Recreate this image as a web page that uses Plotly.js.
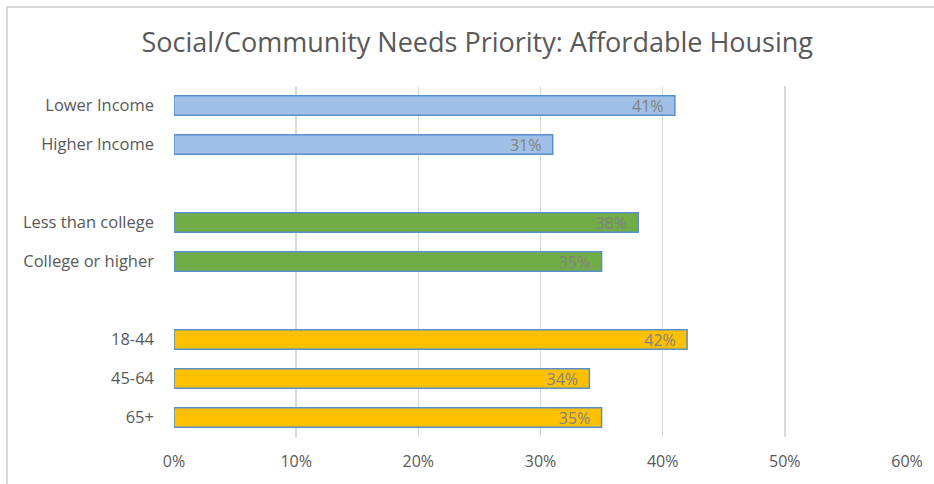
<!DOCTYPE html>
<html>
<head>
<meta charset="utf-8">
<script src="https://cdn.plot.ly/plotly-3.0.1.min.js"></script>
<style>
html,body{margin:0;padding:0;background:#fff;}
#wrap{position:relative;width:934px;height:484px;overflow:hidden;}
#frame{position:absolute;left:6px;top:6px;width:940px;height:500px;border-left:2px solid #d9d9d9;border-top:2px solid #d9d9d9;pointer-events:none;}
#chart{position:absolute;left:0;top:0;width:934px;height:484px;}
</style>
</head>
<body>
<div id="wrap"><div id="chart"></div><div id="frame"></div></div>
<script>
// Data
const incomeCats = ["Lower Income", "Higher Income"];
const incomeVals = [41, 31];
const eduCats = ["Less than college", "College or higher"];
const eduVals = [38, 35];
const ageCats = ["18-44", "45-64", "65+"];
const ageVals = [42, 34, 35];
const xTickVals = [0, 10, 20, 30, 40, 50, 60];
const xTickText = ["0%", "10%", "20%", "30%", "40%", "50%", "60%"];

const spacer1 = " ";
const spacer2 = "  ";
const catOrder = [...incomeCats, spacer1, ...eduCats, spacer2, ...ageCats];

function trace(cats, vals, fill) {
  return {
    type: "bar",
    orientation: "h",
    y: cats,
    x: vals,
    text: vals.map(v => v + "%\u00a0\u00a0"),
    textposition: "inside",
    insidetextanchor: "end",
    textangle: 0,
    constraintext: "none",
    textfont: {family: "Open Sans, Noto Sans, sans-serif", size: 16, color: "#828282"},
    marker: {color: fill, line: {color: "#5b8fcc", width: 1.5}},
    width: 0.5,
    hoverinfo: "skip",
    cliponaxis: false
  };
}

const data = [
  trace(incomeCats, incomeVals, "#a0c0e8"),
  trace(eduCats, eduVals, "#70ad47"),
  trace(ageCats, ageVals, "#ffc000")
];

const layout = {
  width: 934,
  height: 484,
  margin: {l: 174, r: 27, t: 86, b: 47},
  paper_bgcolor: "rgba(0,0,0,0)",
  plot_bgcolor: "rgba(0,0,0,0)",
  showlegend: false,
  barmode: "overlay",
  font: {family: "Open Sans, Noto Sans, sans-serif", color: "#595959"},
  title: {
    text: "Social/Community Needs Priority: Affordable Housing",
    x: 0.511, xanchor: "center",
    y: 0.912, yanchor: "middle",
    font: {family: "Open Sans, Noto Sans, sans-serif", size: 27, color: "#595959"}
  },
  xaxis: {
    range: [0, 60],
    tickvals: xTickVals,
    ticktext: xTickText,
    showgrid: true,
    gridcolor: "#d9d9d9",
    gridwidth: 1.5,
    zeroline: false,
    showline: false,
    ticks: "",
    ticklabelstandoff: 13,
    tickfont: {size: 16, color: "#595959"},
    fixedrange: true
  },
  yaxis: {
    type: "category",
    categoryorder: "array",
    categoryarray: catOrder,
    autorange: "reversed",
    showgrid: false,
    zeroline: false,
    showline: false,
    ticks: "",
    ticklabelstandoff: 19,
    tickfont: {size: 16.5, color: "#595959"},
    fixedrange: true
  }
};

Plotly.newPlot("chart", data, layout, {displayModeBar: false, staticPlot: true});
</script>
</body>
</html>
